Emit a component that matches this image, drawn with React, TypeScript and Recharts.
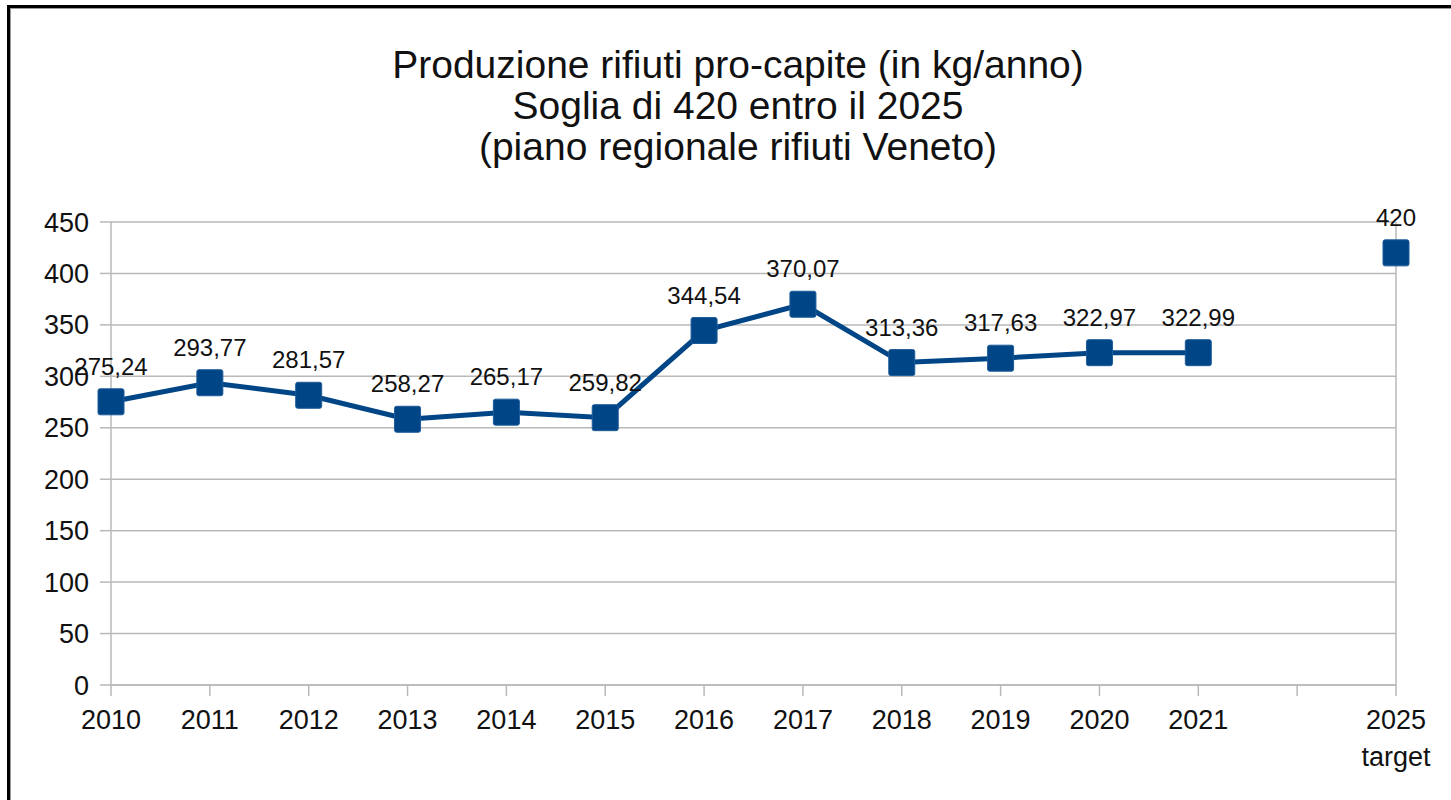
import { CartesianGrid, LabelList, Line, LineChart, ReferenceLine, XAxis, YAxis } from "recharts";

const BLUE = "#004586";
const GRID = "#b9b9b9";
const TEXT = "#111";
const FONT = "'Liberation Sans', Arial, sans-serif";

const TITLE_LINES = [
  "Produzione rifiuti pro-capite (in kg/anno)",
  "Soglia di 420 entro il 2025",
  "(piano regionale rifiuti Veneto)",
];

const YEARS = ["2010", "2011", "2012", "2013", "2014", "2015", "2016", "2017", "2018", "2019", "2020", "2021", "", "2025\ntarget"];
const KG_PER_CAPITA = [275.24, 293.77, 281.57, 258.27, 265.17, 259.82, 344.54, 370.07, 313.36, 317.63, 322.97, 322.99, null, 420];
const Y_TICKS = [0, 50, 100, 150, 200, 250, 300, 350, 400, 450];

const data = YEARS.map((year, i) => ({ year, kg: KG_PER_CAPITA[i] }));

const fmt = (v: number) => (Number.isInteger(v) ? String(v) : v.toFixed(2).replace(".", ","));

function XTick({ x, y, payload }: any) {
  const lines = String(payload.value).split("\n");
  return (
    <text x={x} y={y} textAnchor="middle" fill={TEXT} fontSize={27} fontFamily={FONT}>
      {lines.map((l, i) => (
        <tspan key={i} x={x} dy={i === 0 ? 33 : 37}>
          {l}
        </tspan>
      ))}
    </text>
  );
}

function SquareDot({ cx, cy, index }: any) {
  if (cy == null || cx == null) return <g key={index} />;
  return <rect key={index} x={cx - 13} y={cy - 13} width={26} height={26} rx={2} fill={BLUE} stroke="#1d5c9a" strokeWidth={1} />;
}

function ValueLabel({ x, y, value }: any) {
  if (value == null) return null;
  return (
    <text x={x} y={y - 27} textAnchor="middle" fill={TEXT} fontSize={24} fontFamily={FONT}>
      {fmt(Number(value))}
    </text>
  );
}

export default function App() {
  return (
    <div style={{ position: "fixed", inset: 0, overflow: "hidden", background: "#fff" }}>
      <div
        style={{
          position: "absolute",
          left: 7,
          top: 5,
          width: 1500,
          height: 900,
          border: "3px solid #000",
          boxShadow: "inset 1px 1px 0 #999",
        }}
      />
      <div
        style={{
          position: "absolute",
          left: 0,
          top: 44,
          width: 1476,
          textAlign: "center",
          fontFamily: FONT,
          fontSize: 39,
          lineHeight: "41px",
          color: TEXT,
        }}
      >
        {TITLE_LINES.map((t) => (
          <div key={t}>{t}</div>
        ))}
      </div>
      <div style={{ position: "absolute", left: 0, top: 0 }}>
        <LineChart width={1451} height={800} data={data} margin={{ top: 222, right: 55, bottom: 0, left: 0 }}>
          <CartesianGrid vertical={false} stroke={GRID} strokeWidth={1.5} />
          <XAxis
            dataKey="year"
            scale="point"
            interval={0}
            height={115}
            tickSize={11}
            tickMargin={0}
            stroke={GRID}
            strokeWidth={1.5}
            tick={<XTick />}
          />
          <YAxis
            domain={[0, 450]}
            ticks={Y_TICKS}
            width={111}
            tickSize={11}
            tickMargin={11}
            stroke={GRID}
            strokeWidth={1.5}
            tick={{ fill: TEXT, fontSize: 27, fontFamily: FONT }}
          />
          <ReferenceLine x={YEARS[YEARS.length - 1]} stroke={GRID} strokeWidth={1.5} />
          <Line
            dataKey="kg"
            stroke={BLUE}
            strokeWidth={5}
            dot={<SquareDot />}
            activeDot={false}
            connectNulls={false}
            isAnimationActive={false}
          >
            <LabelList dataKey="kg" content={<ValueLabel />} />
          </Line>
        </LineChart>
      </div>
    </div>
  );
}
